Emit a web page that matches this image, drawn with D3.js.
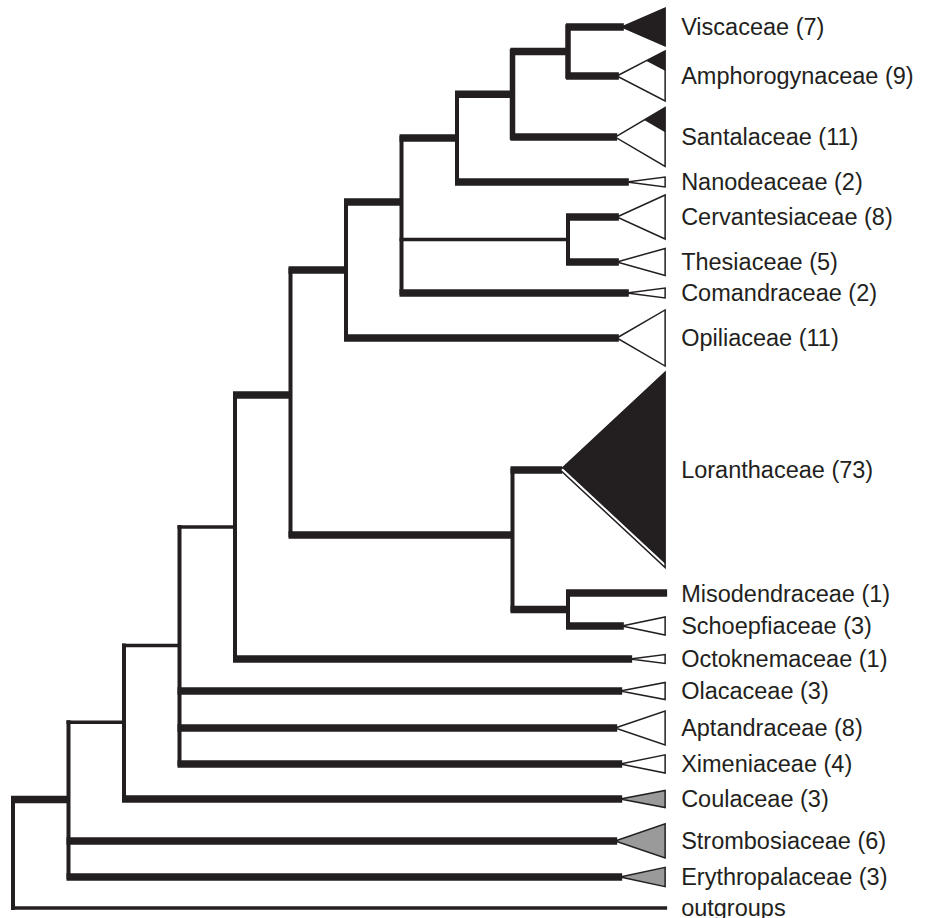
<!DOCTYPE html>
<html>
<head>
<meta charset="utf-8">
<script src="https://cdn.jsdelivr.net/npm/d3@7"></script>
<style>
  html, body { margin: 0; padding: 0; background: #fff; }
  svg { display: block; }
</style>
</head>
<body>
<div id="chart"></div>
<script>
// families in tip order (top to bottom)
const leafNames = ["Viscaceae", "Amphorogynaceae", "Santalaceae", "Nanodeaceae", "Cervantesiaceae",
  "Thesiaceae", "Comandraceae", "Opiliaceae", "Loranthaceae", "Misodendraceae", "Schoepfiaceae",
  "Octoknemaceae", "Olacaceae", "Aptandraceae", "Ximeniaceae", "Coulaceae", "Strombosiaceae",
  "Erythropalaceae", "outgroups"];
// genera per family (number in brackets)
const genusCounts = [7, 9, 11, 2, 8, 5, 2, 11, 73, 1, 3, 1, 3, 8, 4, 3, 6, 3, null];
// vertical position of each tip, 0 = top tip, 100 = bottom tip
const leafRows = [0, 5.56, 12.49, 17.59, 21.57, 26.67, 30.19, 35.3, 50.28, 64.25, 67.99,
  71.74, 75.37, 79.57, 83.65, 87.63, 92.39, 96.48, 100];
// depth where collapsed clade (triangle) starts
const crownDepths = [10.97, 10.88, 10.85, 11.06, 10.88, 10.88, 11.06, 10.88, 9.86, 11.75, 10.97,
  11.12, 10.94, 10.85, 10.94, 10.94, 10.85, 10.94, 11.75];
// sampled tips in each collapsed clade (triangle height)
const cladeTips = [6.9, 9.1, 10.7, 1.8, 8, 4.9, 1.8, 10.2, 35.5, 0, 3.3, 1.6, 3.1, 6.2, 3.3, 3.1, 6.2, 3.5, 0];
// tips that are aerial parasites (black part)
const aerialTips = [6.9, 3.6, 4.5, 0, 0, 0, 0, 0, 34.8, 0, 0, 0, 0, 0, 0, 0, 0, 0, 0];
const habits = ["parasite", "parasite", "parasite", "parasite", "parasite", "parasite", "parasite",
  "parasite", "parasite", "parasite", "parasite", "parasite", "parasite", "parasite", "parasite",
  "free", "free", "free", "outgroup"];

// topology
const topology = [[[[[[[[[[["Viscaceae", "Amphorogynaceae"], "Santalaceae"], "Nanodeaceae"],
  ["Cervantesiaceae", "Thesiaceae"], "Comandraceae"], "Opiliaceae"],
  ["Loranthaceae", ["Misodendraceae", "Schoepfiaceae"]]], "Octoknemaceae"],
  "Olacaceae", "Aptandraceae", "Ximeniaceae"], "Coulaceae"], "Strombosiaceae", "Erythropalaceae"], "outgroups"];

// branches with weak support (thin lines), by clade span
const weakBranches = ["outgroups", "Viscaceae–Coulaceae", "Viscaceae–Ximeniaceae",
  "Viscaceae–Octoknemaceae", "Cervantesiaceae–Thesiaceae"];
// nodes not drawn at the midpoint of their children
const nodeRows = {"Viscaceae–Comandraceae": 19.86, "Viscaceae–Schoepfiaceae": 41.77,
  "Loranthaceae–Schoepfiaceae": 57.65};

const width = 930, height = 918;
const ink = "#231f20";

const x = d3.scaleLinear().domain([0, 12]).range([13, 679]);
const y = d3.scaleLinear().domain([0, 100]).range([27, 908]);
const tipH = d3.scaleLinear().domain([0, 1]).range([0, 5.5]);
const fill = d3.scaleOrdinal().domain(["parasite", "free"]).range(["#fff", "#9a9a9a"]);
const endX = x(11.75);

const root = d3.hierarchy(topology, d => Array.isArray(d) ? d : null);
root.eachAfter(n => {
  if (!n.children) {
    n.i = leafNames.indexOf(n.data);
    n.key = n.data;
    n.px = x(crownDepths[n.i]);
    n.py = y(leafRows[n.i]);
  } else {
    const lv = n.leaves();
    n.key = lv[0].data + "–" + lv[lv.length - 1].data;
    n.px = x(11 - n.height);
    const first = n.children[0], last = n.children[n.children.length - 1];
    n.py = nodeRows[n.key] != null ? y(nodeRows[n.key]) : (first.py + last.py) / 2;
  }
});

const svg = d3.select("#chart").append("svg")
  .attr("width", width).attr("height", height);

svg.append("rect").attr("width", width).attr("height", height).attr("fill", "#fff");

const g = svg.append("g");

// vertical parts
g.selectAll("line.v")
  .data(root.descendants().filter(d => d.children))
  .enter().append("line")
  .attr("class", "v")
  .attr("x1", d => d.px).attr("x2", d => d.px)
  .attr("y1", d => d.children[0].py)
  .attr("y2", d => d.children[d.children.length - 1].py)
  .attr("stroke", ink)
  .attr("stroke-width", d => d.height <= 2 && d.leaves()[0].data === "Viscaceae" ? 5.5 : 4)
  .attr("stroke-linecap", "square");

// horizontal branches
g.selectAll("line.h")
  .data(root.descendants().filter(d => d.parent))
  .enter().append("line")
  .attr("class", "h")
  .attr("x1", d => d.parent.px - 2)
  .attr("x2", d => d.children ? d.px : d.px + 2)
  .attr("y1", d => d.py).attr("y2", d => d.py)
  .attr("stroke", ink)
  .attr("stroke-width", d => weakBranches.includes(d.key) ? 3.5 : 7.5);

// collapsed clades
const leaves = root.leaves().filter(d => cladeTips[d.i] > 0);

g.selectAll("polygon.clade")
  .data(leaves)
  .enter().append("polygon")
  .attr("class", "clade")
  .attr("points", d => {
    const h = tipH(cladeTips[d.i]);
    return [[d.px, d.py], [endX, d.py - h / 2], [endX, d.py + h / 2]].join(" ");
  })
  .attr("fill", d => fill(habits[d.i]))
  .attr("stroke", ink)
  .attr("stroke-width", 1.5);

g.selectAll("polygon.aerial")
  .data(leaves.filter(d => aerialTips[d.i] > 0))
  .enter().append("polygon")
  .attr("class", "aerial")
  .attr("points", d => {
    const h = tipH(cladeTips[d.i]);
    const k = aerialTips[d.i] / cladeTips[d.i];
    const w = endX - d.px;
    const top = d.py - h / 2;
    return [[endX - w * k, top + h * k / 2], [endX, top], [endX, top + h * k]].join(" ");
  })
  .attr("fill", ink);

// labels
svg.selectAll("text")
  .data(root.leaves())
  .enter().append("text")
  .attr("x", endX + 16)
  .attr("y", d => d.py)
  .attr("dy", "0.36em")
  .attr("fill", ink)
  .style("font-family", "'Liberation Sans', Arial, Helvetica, sans-serif")
  .style("font-size", "23.5px")
  .text(d => genusCounts[d.i] != null ? `${d.data} (${genusCounts[d.i]})` : d.data);
</script>
</body>
</html>
